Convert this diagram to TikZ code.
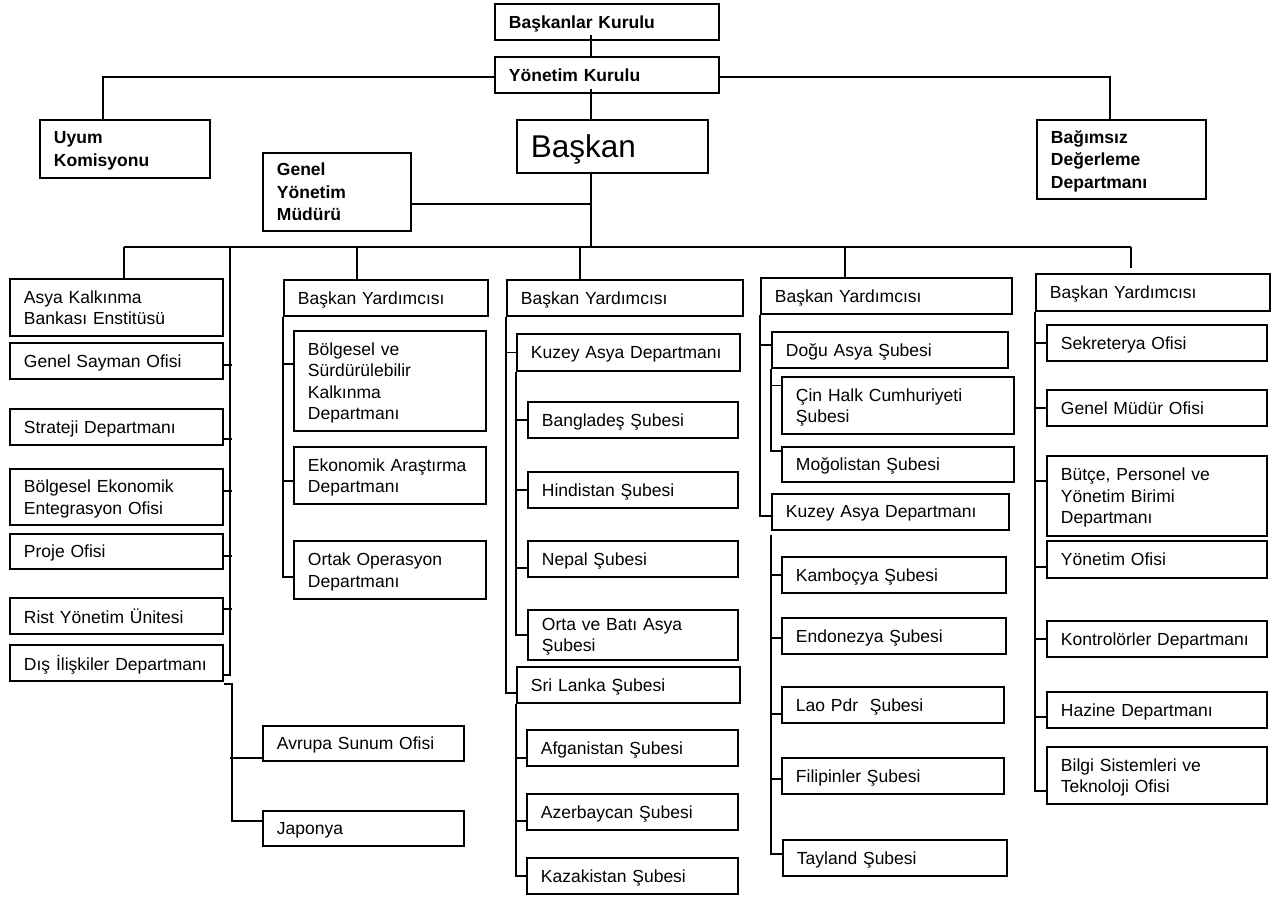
\documentclass[tikz,border=0pt]{standalone}
\usepackage{fontspec}
\setmainfont{Liberation Sans}
% one organisational unit: name, top-left corner, width, height, text
\newcommand\orgbox[6][]{%
  \node[box,#1,minimum height=#5pt,text width=\dimexpr#4pt-28pt\relax] (#2) at (#3) {#6};}
\begin{document}
\begin{tikzpicture}[x=1pt,y=-1pt,
  box/.style={draw, line width=1.9pt, fill=white, anchor=north west,
    inner xsep=14pt, inner ysep=0pt, align=left, text depth=0pt,
    font=\fontsize{17.5}{21.5}\selectfont},
  strong/.style={font=\fontsize{17.5}{22.5}\selectfont\bfseries},
  % depth below the first baseline for boxes with two, three or four lines
  two/.style={text depth=21.5pt},
  three/.style={text depth=43pt},
  four/.style={text depth=64.5pt},
  conn/.style={line width=1.4pt, line join=miter}]
\fill[white] (0,0) rectangle (1281,898);
\useasboundingbox (0,0) rectangle (1281,898);

% ---------- top management ----------
\orgbox[strong]{bk}{494,3}{224}{36}{Başkanlar Kurulu}
\orgbox[strong]{yk}{494,56}{224}{36}{Yönetim Kurulu}
\orgbox[font=\fontsize{31.5}{36}\selectfont]{bas}{516,119}{191}{53}{Başkan}
\orgbox[strong,text depth=22.5pt]{uk}{39,119}{170}{58}{Uyum\\Komisyonu}
\orgbox[strong,text depth=45pt]{bd}{1036,119}{169}{79}{Bağımsız\\Değerleme\\Departmanı}
\orgbox[strong,text depth=45pt]{gym}{262,152}{148}{78}{Genel\\Yönetim\\Müdürü}

% ---------- staff units on the left ----------
\orgbox[two]{asya}{9,278}{213}{57}{Asya Kalkınma\\Bankası Enstitüsü}
\orgbox{gs}{9,342}{213}{36}{Genel Sayman Ofisi}
\orgbox{st}{9,408}{213}{36}{Strateji Departmanı}
\orgbox[two]{bee}{9,468}{213}{56}{Bölgesel Ekonomik\\Entegrasyon Ofisi}
\orgbox{pr}{9,533}{213}{35}{Proje Ofisi}
\orgbox{rist}{9,597}{213}{36}{Rist Yönetim Ünitesi}
\orgbox{dis}{9,644}{213}{36}{Dış İlişkiler Departmanı}
\orgbox{avr}{262,725}{201}{35}{Avrupa Sunum Ofisi}
\orgbox{jap}{262,810}{201}{35}{Japonya}

% ---------- vice president 1 ----------
\orgbox{vp2}{283,279}{204}{36}{Başkan Yardımcısı}
\orgbox[four]{bsk}{293,330}{192}{100}{Bölgesel ve\\Sürdürülebilir\\Kalkınma\\Departmanı}
\orgbox[two]{ead}{293,446}{192}{57}{Ekonomik Araştırma\\Departmanı}
\orgbox[two]{ood}{293,540}{192}{58}{Ortak Operasyon\\Departmanı}

% ---------- vice president 2 ----------
\orgbox{vp3}{506,279}{236}{36}{Başkan Yardımcısı}
\orgbox{kad3}{516,333}{223}{37}{Kuzey Asya Departmanı}
\orgbox{ban}{527,401}{210}{36}{Bangladeş Şubesi}
\orgbox{hin}{527,471}{210}{36}{Hindistan Şubesi}
\orgbox{nep}{527,540}{210}{36}{Nepal Şubesi}
\orgbox[two]{ort}{527,609}{210}{50}{Orta ve Batı Asya\\Şubesi}
\orgbox{sri}{516,666}{223}{36}{Sri Lanka Şubesi}
\orgbox{afg}{526,729}{211}{36}{Afganistan Şubesi}
\orgbox{aze}{526,793}{211}{36}{Azerbaycan Şubesi}
\orgbox{kaz}{526,857}{211}{36}{Kazakistan Şubesi}

% ---------- vice president 3 ----------
\orgbox{vp4}{760,277}{251}{36}{Başkan Yardımcısı}
\orgbox{dog}{771,331}{236}{36}{Doğu Asya Şubesi}
\orgbox[two]{cin}{781,376}{232}{57}{Çin Halk Cumhuriyeti\\Şubesi}
\orgbox{mog}{781,446}{232}{35}{Moğolistan Şubesi}
\orgbox{kad4}{771,493}{237}{36}{Kuzey Asya Departmanı}
\orgbox{kam}{781,556}{224}{36}{Kamboçya Şubesi}
\orgbox{endo}{781,617}{224}{36}{Endonezya Şubesi}
\orgbox{lao}{781,686}{222}{36}{Lao Pdr\ \ Şubesi}
\orgbox{fil}{781,757}{222}{36}{Filipinler Şubesi}
\orgbox{tay}{782,839}{224}{36}{Tayland Şubesi}

% ---------- vice president 4 ----------
\orgbox{vp5}{1035,273}{234}{37}{Başkan Yardımcısı}
\orgbox{sek}{1046,324}{220}{36}{Sekreterya Ofisi}
\orgbox{gm}{1046,389}{220}{36}{Genel Müdür Ofisi}
\orgbox[three]{but}{1046,455}{220}{80}{Bütçe, Personel ve\\Yönetim Birimi\\Departmanı}
\orgbox{yo}{1046,540}{220}{37}{Yönetim Ofisi}
\orgbox{kon}{1046,620}{220}{36}{Kontrolörler Departmanı}
\orgbox{haz}{1046,691}{220}{36}{Hazine Departmanı}
\orgbox[two]{bil}{1046,746}{220}{57}{Bilgi Sistemleri ve\\Teknoloji Ofisi}

% ---------- reporting lines ----------
\coordinate (c0) at (591,77);
\coordinate (ukd) at (103,77);
\coordinate (bdd) at (1110,77);
\coordinate (gy) at (591,204);
\coordinate (b1) at (124,247);
\coordinate (b2) at (230,247);
\coordinate (b3) at (357,247);
\coordinate (b4) at (580,247);
\coordinate (b5) at (845,247);
\coordinate (b6) at (1131,247);
\coordinate (bus) at (591,247);

\draw[conn] ([yshift=6pt]bk.south -| c0) -- (yk.north -| c0);
\draw[conn] ([yshift=5pt]yk.south -| c0) -- (bas.north -| c0);
\draw[conn] (bas.south -| c0) -- (bus);
\draw[conn] (uk.north -| ukd) |- (c0 -| yk.west);
\draw[conn] (c0 -| yk.east) -| (bd.north -| bdd);
\draw[conn] (gy -| gym.east) -- (gy);
\draw[conn] (b1) -- (b6);
\draw[conn] (b1) -- (b1 |- asya.north);
\draw[conn] (b3) -- (b3 |- vp2.north);
\draw[conn] (b4) -- (b4 |- vp3.north);
\draw[conn] (b5) -- (b5 |- vp4.north);
\draw[conn] (b6) -- ([yshift=5pt]b6 |- vp5.north);

% left spine
\draw[conn] (b2) |- ([yshift=-12pt]dis.east);
\draw[conn] ([yshift=-4pt]gs.east) -- +(8,0);
\draw[conn] ([yshift=-12pt]st.east) -- +(8,0);
\draw[conn] ([yshift=6pt]bee.east) -- +(8,0);
\draw[conn] ([yshift=-4.5pt]pr.east) -- +(8,0);
\draw[conn] ([yshift=7pt]rist.east) -- +(8,0);
\draw[conn] ([yshift=-2pt]dis.south east) -- ++(8,0) |- ([yshift=7.5pt]jap.west);
\draw[conn] ([yshift=-14.5pt]avr.west) -- +(-32,0);

% vice president 1
\draw[conn] (vp2.south west) |- ([yshift=-7pt]ood.west);
\draw[conn] ([yshift=17pt]bsk.west) -- +(-10,0);
\draw[conn] ([yshift=-5.5pt]ead.west) -- +(-10,0);

% vice president 2
\draw[conn] (vp3.south west) |- ([yshift=-8pt]sri.west);
\draw[conn] (kad3.west) -- +(-10,0);
\draw[conn] (kad3.south west) |- (ort.west);
\draw[conn] (ban.west) -- +(-11,0);
\draw[conn] (hin.west) -- +(-11,0);
\draw[conn] ([yshift=-9pt]nep.west) -- +(-11,0);
\draw[conn] (sri.south west) |- (kaz.west);
\draw[conn] ([yshift=-10pt]afg.west) -- +(-10,0);
\draw[conn] ([yshift=-9pt]aze.west) -- +(-10,0);

% vice president 3
\draw[conn] (vp4.south west) |- ([yshift=-4pt]kad4.west);
\draw[conn] ([yshift=5pt]dog.west) -- +(-11,0);
\draw[conn] (dog.south west) |- ([yshift=13.5pt]mog.west);
\draw[conn] ([yshift=20pt]cin.west) -- +(-10,0);
\draw[conn] ([yshift=-4pt]kad4.south west) |- ([yshift=4pt]tay.west);
\draw[conn] (kam.west) -- +(-10,0);
\draw[conn] ([yshift=-2pt]endo.west) -- +(-10,0);
\draw[conn] ([yshift=-9pt]lao.west) -- +(-10,0);
\draw[conn] ([yshift=-3pt]fil.west) -- +(-10,0);

% vice president 4
\draw[conn] (vp5.south west) |- ([yshift=-15.5pt]bil.west);
\draw[conn] (sek.west) -- +(-11,0);
\draw[conn] (gm.west) -- +(-11,0);
\draw[conn] ([yshift=15pt]but.west) -- +(-11,0);
\draw[conn] ([yshift=-7.5pt]yo.west) -- +(-11,0);
\draw[conn] (kon.west) -- +(-11,0);
\draw[conn] ([yshift=-7pt]haz.west) -- +(-11,0);
\end{tikzpicture}
\end{document}
